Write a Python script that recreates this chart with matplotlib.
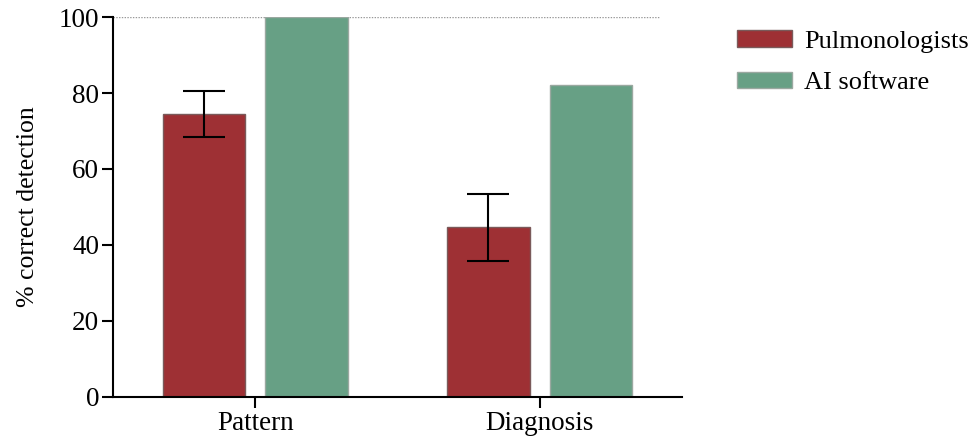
import matplotlib.pyplot as plt
from matplotlib.patches import Patch

categories = ["Pattern", "Diagnosis"]
pulmonologists = [74.4, 44.6]
pulmonologists_err = [6.0, 8.7]
ai_software = [100, 82]
yticks = [0, 20, 40, 60, 80, 100]

red = "#9e3034"
green = "#67a085"

plt.rcParams['font.family'] = ['Liberation Serif', 'DejaVu Serif']

fig = plt.figure(figsize=(9.74, 4.48), dpi=100)
ax = fig.add_axes([0.116, 0.114, 0.584, 0.848])

x = range(len(categories))
width = 0.29
offset = 0.18

ax.bar([i - offset for i in x], pulmonologists, width, color=red,
       edgecolor="#7a5a5a", linewidth=1.0, label="Pulmonologists", zorder=2)
ax.errorbar([i - offset for i in x], pulmonologists, yerr=pulmonologists_err,
            fmt="none", ecolor="black", elinewidth=1.5, capsize=15,
            capthick=1.5, zorder=3)
ax.bar([i + offset for i in x], ai_software, width, color=green,
       edgecolor="#9aa8a0", linewidth=1.0, label="AI software", zorder=2)

# dotted reference line at 100 %
ax.hlines(100, -0.5, 1.42, colors="#999999", linestyles=(0, (1, 1)),
          linewidth=1.0, zorder=1)

ax.set_xlim(-0.5, 1.5)
ax.set_ylim(0, 100)
ax.set_xticks(list(x))
ax.set_xticklabels(categories)
ax.set_yticks(yticks)
ax.set_ylabel("% correct detection", fontsize=18.5, labelpad=14)

for side in ["top", "right"]:
    ax.spines[side].set_visible(False)
for side in ["left", "bottom"]:
    ax.spines[side].set_linewidth(1.5)
ax.tick_params(axis="both", direction="out", length=8, width=1.5,
               labelsize=19.5, pad=2)

handles = [Patch(facecolor=red, edgecolor="#7a5a5a", label="Pulmonologists"),
           Patch(facecolor=green, edgecolor="#9aa8a0", label="AI software")]
fig.legend(handles=handles, loc="upper left", bbox_to_anchor=(0.751, 0.945),
           frameon=False, fontsize=19, handlelength=2.1, handleheight=0.6,
           handletextpad=0.45, labelspacing=0.72, borderpad=0.2,
           borderaxespad=0)

fig.savefig("out.png", dpi=100)
